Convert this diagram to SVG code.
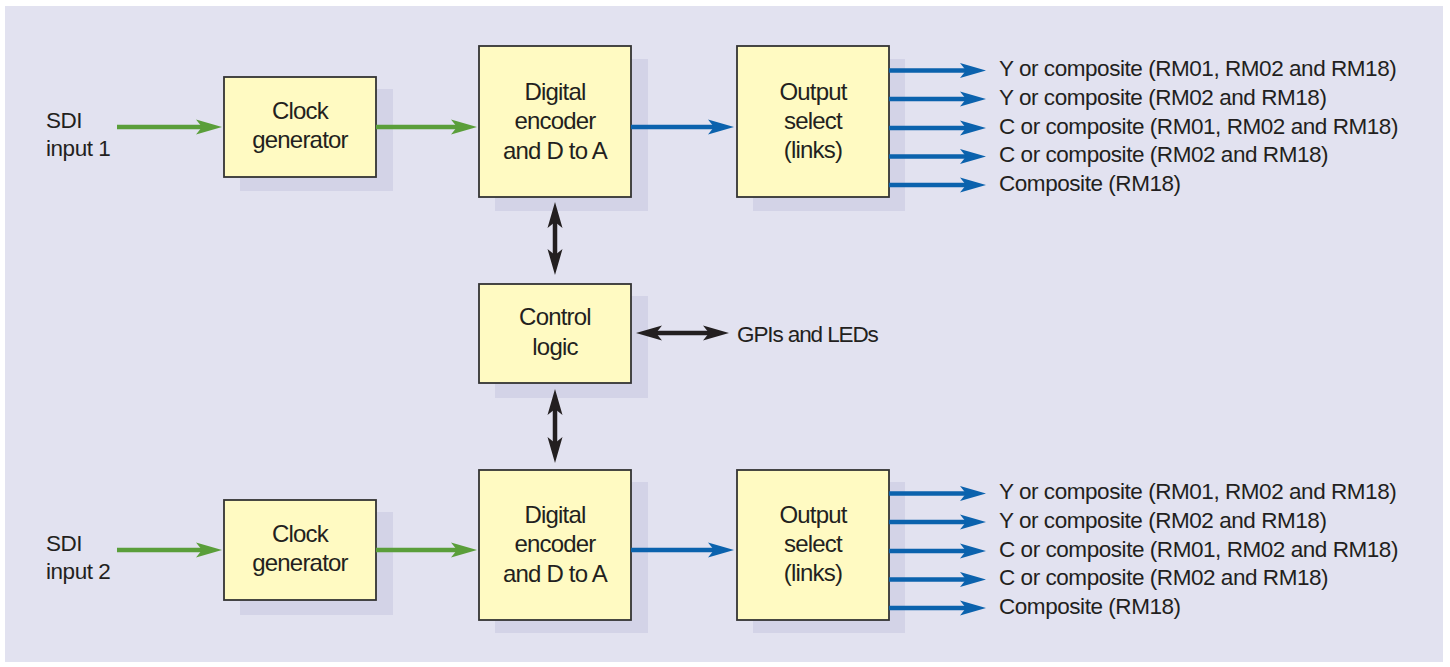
<svg xmlns="http://www.w3.org/2000/svg" width="1450" height="667" viewBox="0 0 1450 667">
<style>
.bg{fill:#e2e2f0}
.sh{fill:#d3d3e7}
.box{fill:#fffac2;stroke:#333;stroke-width:1.8}
.t{font-family:"Liberation Sans",Arial,sans-serif;font-size:24px;fill:#231f20;text-anchor:middle;letter-spacing:-0.8px}
.l{font-family:"Liberation Sans",Arial,sans-serif;font-size:22.5px;fill:#231f20;letter-spacing:-0.45px}
.g{stroke:#5a9e3a;stroke-width:4.5;fill:none}
.b{stroke:#0b62ad;stroke-width:4.5;fill:none}
.k{stroke:#231f20;stroke-width:4.5;fill:none}
</style>
<defs>
<marker id="ag" markerUnits="userSpaceOnUse" viewBox="-26 -8 27 16" refX="-14" refY="0" markerWidth="27" markerHeight="16" orient="auto"><path d="M0,0 L-26,-7.5 L-20,0 L-26,7.5 Z" fill="#5a9e3a"/></marker>
<marker id="ab" markerUnits="userSpaceOnUse" viewBox="-26 -8 27 16" refX="-14" refY="0" markerWidth="27" markerHeight="16" orient="auto"><path d="M0,0 L-26,-7.5 L-20,0 L-26,7.5 Z" fill="#0b62ad"/></marker>
<marker id="ak" markerUnits="userSpaceOnUse" viewBox="-26 -8 27 16" refX="-14" refY="0" markerWidth="27" markerHeight="16" orient="auto-start-reverse"><path d="M0,0 L-26,-7.5 L-20,0 L-26,7.5 Z" fill="#231f20"/></marker>
</defs>
<rect class="bg" x="5" y="6" width="1438" height="656"/>

<g id="clock1"><rect class="sh" x="240" y="89" width="153" height="102"/><rect class="box" x="224" y="77" width="152" height="100"/><text class="t" x="300" y="119">Clock</text><text class="t" x="300" y="148">generator</text></g>
<g id="encoder1"><rect class="sh" x="495" y="59" width="153" height="152"/><rect class="box" x="479" y="46" width="152" height="151"/><text class="t" x="555" y="100">Digital</text><text class="t" x="555" y="129">encoder</text><text class="t" x="555" y="159">and D to A</text></g>
<g id="output1"><rect class="sh" x="753" y="59" width="152" height="152"/><rect class="box" x="737" y="46" width="152" height="151"/><text class="t" x="813" y="100">Output</text><text class="t" x="813" y="129">select</text><text class="t" x="813" y="158">(links)</text></g>
<g id="control"><rect class="sh" x="495" y="296" width="153" height="102"/><rect class="box" x="479" y="284" width="152" height="99"/><text class="t" x="555" y="325">Control</text><text class="t" x="555" y="355">logic</text></g>
<g id="clock2"><rect class="sh" x="240" y="512" width="153" height="103"/><rect class="box" x="224" y="500" width="152" height="100"/><text class="t" x="300" y="542">Clock</text><text class="t" x="300" y="571">generator</text></g>
<g id="encoder2"><rect class="sh" x="495" y="482" width="153" height="151"/><rect class="box" x="479" y="470" width="152" height="150"/><text class="t" x="555" y="523">Digital</text><text class="t" x="555" y="552">encoder</text><text class="t" x="555" y="582">and D to A</text></g>
<g id="output2"><rect class="sh" x="753" y="482" width="152" height="151"/><rect class="box" x="737" y="470" width="152" height="150"/><text class="t" x="813" y="523">Output</text><text class="t" x="813" y="552">select</text><text class="t" x="813" y="581">(links)</text></g>

<g id="connectors">
<line class="g" x1="117" y1="127" x2="208" y2="127" marker-end="url(#ag)"/>
<line class="g" x1="376" y1="127" x2="463" y2="127" marker-end="url(#ag)"/>
<line class="b" x1="631" y1="127" x2="720" y2="127" marker-end="url(#ab)"/>
<line class="b" x1="889" y1="70.5" x2="972" y2="70.5" marker-end="url(#ab)"/>
<line class="b" x1="889" y1="99" x2="972" y2="99" marker-end="url(#ab)"/>
<line class="b" x1="889" y1="128" x2="972" y2="128" marker-end="url(#ab)"/>
<line class="b" x1="889" y1="156.5" x2="972" y2="156.5" marker-end="url(#ab)"/>
<line class="b" x1="889" y1="185" x2="972" y2="185" marker-end="url(#ab)"/>
<line class="k" x1="555" y1="216" x2="555" y2="261" marker-start="url(#ak)" marker-end="url(#ak)"/>
<line class="k" x1="555" y1="403" x2="555" y2="449" marker-start="url(#ak)" marker-end="url(#ak)"/>
<line class="k" x1="650" y1="333" x2="715" y2="333" marker-start="url(#ak)" marker-end="url(#ak)"/>
<line class="g" x1="117" y1="550" x2="208" y2="550" marker-end="url(#ag)"/>
<line class="g" x1="376" y1="550" x2="463" y2="550" marker-end="url(#ag)"/>
<line class="b" x1="631" y1="550" x2="720" y2="550" marker-end="url(#ab)"/>
<line class="b" x1="889" y1="493.5" x2="972" y2="493.5" marker-end="url(#ab)"/>
<line class="b" x1="889" y1="522" x2="972" y2="522" marker-end="url(#ab)"/>
<line class="b" x1="889" y1="551" x2="972" y2="551" marker-end="url(#ab)"/>
<line class="b" x1="889" y1="579.5" x2="972" y2="579.5" marker-end="url(#ab)"/>
<line class="b" x1="889" y1="608" x2="972" y2="608" marker-end="url(#ab)"/>
</g>

<g id="labels">
<text class="l" x="46" y="128">SDI</text>
<text class="l" x="46" y="156">input 1</text>
<text class="l" x="46" y="551">SDI</text>
<text class="l" x="46" y="579">input 2</text>
<text class="l" x="737" y="342" style="letter-spacing:-1.1px">GPIs and LEDs</text>
<text class="l" x="999" y="76">Y or composite (RM01, RM02 and RM18)</text>
<text class="l" x="999" y="104.5">Y or composite (RM02 and RM18)</text>
<text class="l" x="999" y="133.5">C or composite (RM01, RM02 and RM18)</text>
<text class="l" x="999" y="162">C or composite (RM02 and RM18)</text>
<text class="l" x="999" y="190.5">Composite (RM18)</text>
<text class="l" x="999" y="499">Y or composite (RM01, RM02 and RM18)</text>
<text class="l" x="999" y="527.5">Y or composite (RM02 and RM18)</text>
<text class="l" x="999" y="556.5">C or composite (RM01, RM02 and RM18)</text>
<text class="l" x="999" y="585">C or composite (RM02 and RM18)</text>
<text class="l" x="999" y="613.5">Composite (RM18)</text>
</g>
</svg>
